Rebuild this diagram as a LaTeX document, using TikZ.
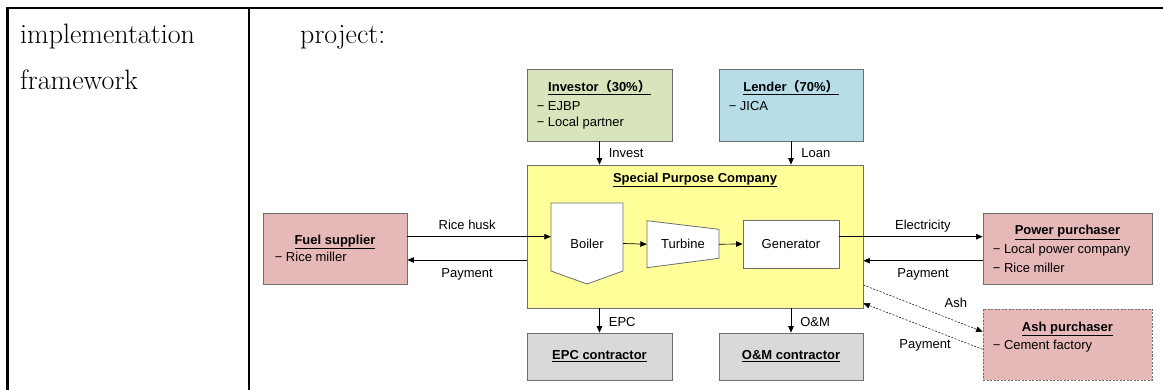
\documentclass[tikz,border=0pt]{standalone}
\usepackage{fontspec}
\setsansfont{Liberation Sans}
\newfontfamily\cjk{Noto Sans CJK JP}
\usetikzlibrary{arrows.meta,calc}
\definecolor{invc}{HTML}{D8E4BC}
\definecolor{lenc}{HTML}{B7DDE8}
\definecolor{spcc}{HTML}{FFFF99}
\definecolor{pinkc}{HTML}{E6B9B8}
\definecolor{grayc}{HTML}{D9D9D9}
\definecolor{edgec}{HTML}{6E6E6E}
\begin{document}
\begin{tikzpicture}[x=1pt,y=-1pt,
  box/.style={draw=edgec, line width=0.8pt, inner sep=0pt, font=\sffamily\fontsize{13}{15}\selectfont},
  txt/.style={inner sep=0pt, font=\sffamily\fontsize{13}{15}\selectfont},
  ttl/.style={inner sep=0pt, font=\sffamily\bfseries\fontsize{13}{15}\selectfont},
  tbl/.style={inner sep=0pt, anchor=base west, font=\fontsize{28}{33}\selectfont},
  arr/.style={draw=black, line width=0.7pt, -{Triangle[length=6.5pt,width=5.5pt]}},
  dsh/.style={arr, line width=0.5pt, dash pattern=on 2pt off 1.5pt},
  lbl/.style={txt, anchor=base}]
\useasboundingbox (0,0) rectangle (1163,390);
% table
\draw[line width=2.2pt] (6.4,8) -- (1163,8);
\draw[line width=2.2pt] (7.5,7) -- (7.5,390);
\draw[line width=2.2pt] (249,7) -- (249,390);
\node[tbl] (t1) at (20,44) {implementation};
\node[tbl] (t2) at (20,90) {framework};
\node[tbl] (t3) at (300,44) {project:};
% boxes
\node[box, fill=invc, minimum width=145pt, minimum height=72pt] (inv) at (599.5,105) {};
\node[box, fill=lenc, minimum width=144pt, minimum height=72pt] (lend) at (791,105) {};
\node[box, fill=spcc, minimum width=336pt, minimum height=143pt] (spc) at (695,236.5) {};
\node[box, fill=pinkc, minimum width=144pt, minimum height=71pt] (fuel) at (335,248.5) {};
\node[box, fill=pinkc, minimum width=169pt, minimum height=71pt] (pow) at (1067.5,248.5) {};
\node[box, fill=pinkc, dash pattern=on 2pt off 1.5pt, minimum width=169pt, minimum height=71pt] (ash) at (1067.5,344.5) {};
\node[box, fill=grayc, minimum width=145pt, minimum height=47pt] (epc) at (599.5,356.5) {\bfseries\underline{EPC contractor}};
\node[box, fill=grayc, minimum width=144pt, minimum height=47pt] (om) at (791,356.5) {\bfseries\underline{O\&M contractor}};
% box texts
\node[ttl, anchor=base] at ([yshift=-23pt]inv.north) {\underline{Investor{\cjk（}30\%{\cjk）}}};
\node[txt, anchor=base west] at ([xshift=10pt,yshift=-41.7pt]inv.north west) {− EJBP};
\node[txt, anchor=base west] at ([xshift=10pt,yshift=-58.4pt]inv.north west) {− Local partner};
\node[ttl, anchor=base] at ([yshift=-23pt]lend.north) {\underline{Lender{\cjk（}70\%{\cjk）}}};
\node[txt, anchor=base west] at ([xshift=10pt,yshift=-41.7pt]lend.north west) {− JICA};
\node[ttl, anchor=base] at ([yshift=-17.7pt]spc.north) {\underline{Special Purpose Company}};
\node[ttl, anchor=base] at ([yshift=-31.7pt]fuel.north) {\underline{Fuel supplier}};
\node[txt, anchor=base west] at ([xshift=12pt,yshift=-48.7pt]fuel.north west) {− Rice miller};
\node[ttl, anchor=base] at ([yshift=-22.4pt]pow.north) {\underline{Power purchaser}};
\node[txt, anchor=base west] at ([xshift=10pt,yshift=-41pt]pow.north west) {− Local power company};
\node[txt, anchor=base west] at ([xshift=10pt,yshift=-60pt]pow.north west) {− Rice miller};
\node[ttl, anchor=base] at ([yshift=-22.4pt]ash.north) {\underline{Ash purchaser}};
\node[txt, anchor=base west] at ([xshift=10pt,yshift=-40.7pt]ash.north west) {− Cement factory};
% inner process
\draw[draw=edgec, line width=0.8pt, fill=white] (551,203) -- (623,203) -- (623,271) -- (587,284) -- (551,271) -- cycle;
\node[txt, minimum width=72pt, minimum height=81pt] (boiler) at (587,243.5) {Boiler};
\draw[draw=edgec, line width=0.8pt, fill=white] (647,220.7) -- (719,229.3) -- (719,258.3) -- (647,267.7) -- cycle;
\node[txt, minimum width=72pt, minimum height=47pt] (turb) at (683,244.2) {Turbine};
\node[box, fill=white, minimum width=96pt, minimum height=48pt] (gen) at (791,244) {Generator};
\draw[arr] (boiler.east) -- (turb.west);
\draw[arr] (turb.east) -- (gen.west);
% connectors
\draw[arr] (inv.south) -- node[lbl, anchor=base west, xshift=9pt, yshift=-4.7pt] {Invest} (inv.south |- spc.north);
\draw[arr] (lend.south) -- node[lbl, anchor=base west, xshift=10pt, yshift=-4.7pt] {Loan} (lend.south |- spc.north);
\draw[arr] (epc.north |- spc.south) -- node[lbl, anchor=base west, xshift=9pt, yshift=-5.7pt] {EPC} (epc.north);
\draw[arr] (om.north |- spc.south) -- node[lbl, anchor=base west, xshift=9pt, yshift=-5.7pt] {O\&M} (om.north);
\coordinate (rh) at ([yshift=11.8pt]fuel.east);
\coordinate (fp) at ([yshift=-11.5pt]fuel.east);
\draw[arr] (rh) -- node[lbl, pos=0.417, yshift=7pt] {Rice husk} (rh -| boiler.west);
\draw[arr] (fp -| spc.west) -- node[lbl, pos=0.5, yshift=-17.7pt] {Payment} (fp);
\coordinate (el) at ([yshift=11.8pt]pow.west);
\coordinate (pp) at ([yshift=-12.2pt]pow.west);
\draw[arr] (el -| gen.east) -- node[lbl, pos=0.583, yshift=7pt] {Electricity} (el);
\draw[arr] (pp) -- node[lbl, pos=0.5, yshift=-17pt] {Payment} (pp -| spc.east);
\coordinate (as) at ([yshift=-48.5pt]spc.east);
\coordinate (ae) at ([yshift=12.8pt]ash.west);
\coordinate (ps) at ([yshift=-4.8pt]ash.west);
\coordinate (pe) at ([yshift=-66.8pt]spc.east);
\draw[dsh] (as) -- node[lbl, pos=0.775, yshift=13.5pt] {Ash} (ae);
\draw[dsh] (ps) -- node[lbl, pos=0.483, yshift=-21.6pt] {Payment} (pe);
\end{tikzpicture}
\end{document}
